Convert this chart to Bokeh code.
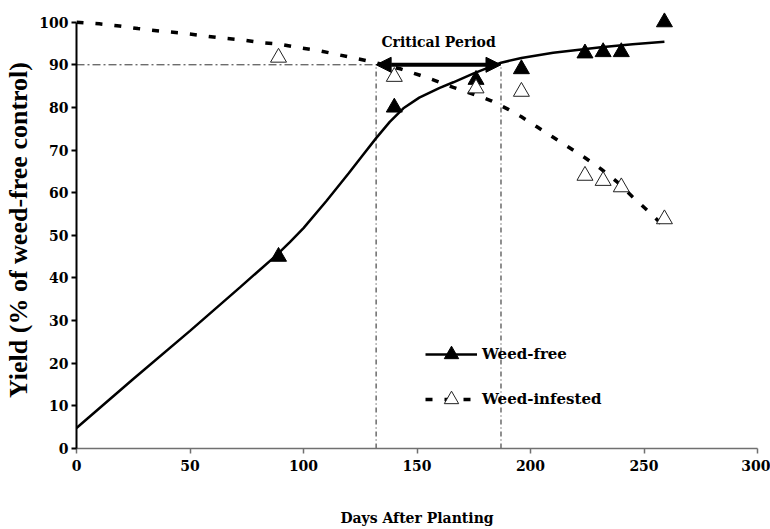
from bokeh.plotting import figure
from bokeh.models import Range1d, FixedTicker, Arrow, NormalHead, Label, Legend, LegendItem
from bokeh.embed import file_html
from bokeh.resources import INLINE

# ---- data ----
days = [89, 140, 176, 196, 224, 232, 240, 259]
weed_free = [45, 80, 86.5, 89, 92.7, 93, 93, 100]
weed_infested = [91.7, 87.2, 84.5, 83.7, 64, 62.8, 61.3, 53.8]

free_fit_days = [0, 25, 50, 72, 88, 94, 100, 110, 120, 126, 132, 138, 144, 151, 160, 166, 175, 187, 196, 210, 231, 245, 259]
free_fit_yield = [4.8, 16.3, 27.6, 37.8, 45.3, 48.4, 51.7, 58, 64.6, 68.7, 72.8, 76.6, 79.8, 82.3, 84.6, 85.9, 88, 90.5, 91.6, 92.8, 94.1, 94.8, 95.4]

inf_fit_days = [0, 10, 19, 27, 37, 47, 56, 64, 72, 81, 90, 98, 107, 115, 123, 131, 143, 151, 158, 166, 177,
                183, 190, 196, 203, 210, 217, 224, 231, 238, 245, 252, 259]
inf_fit_yield = [100, 99.6, 99.1, 98.5, 97.9, 97.4, 96.8, 96.3, 95.9, 95.2, 94.8, 94, 93.3, 92.4, 91.5, 90.6, 89,
                 87.6, 86.3, 84.7, 82.7, 81.5, 79.6, 77.8, 75.4, 73, 70.6, 68.2, 65.6, 62.6, 59, 55.6, 52]

cp_start, cp_end = 132, 187
threshold = 90

x_ticks = [0, 50, 100, 150, 200, 250, 300]
y_ticks = [0, 10, 20, 30, 40, 50, 60, 70, 80, 90, 100]

TICK_FONT = "DejaVu Serif"
TITLE_FONT = "Liberation Serif"

p = figure(width=770, height=529, output_backend="svg", toolbar_location=None,
           x_range=Range1d(0, 300), y_range=Range1d(0, 102.5),
           min_border_left=76, min_border_right=13, min_border_top=11, min_border_bottom=81)
p.outline_line_color = None
p.xgrid.visible = False
p.ygrid.visible = False
p.background_fill_color = "white"
p.border_fill_color = "white"

# axes
p.xaxis.ticker = FixedTicker(ticks=x_ticks)
p.yaxis.ticker = FixedTicker(ticks=y_ticks)
p.yaxis.bounds = (0, 100)
for ax in (p.xaxis, p.yaxis):
    ax.minor_tick_line_color = None
    ax.major_tick_out = 5
    ax.major_tick_in = 0
    ax.major_label_text_font = TICK_FONT
    ax.major_label_text_font_style = "bold"
    ax.major_label_text_font_size = "14px"
    ax.major_label_text_color = "black"
    ax.axis_label_text_color = "black"
    ax.axis_label_text_font_style = "bold"

p.yaxis.axis_line_color = "black"
p.yaxis.axis_line_width = 2
p.yaxis.major_tick_line_color = "black"
p.yaxis.major_tick_line_width = 2
p.yaxis.major_label_standoff = 3
p.yaxis.axis_label = "Yield (% of weed-free control)"
p.yaxis.axis_label_text_font = TITLE_FONT
p.yaxis.axis_label_text_font_size = "26px"
p.yaxis.axis_label_standoff = 3

p.xaxis.axis_line_color = "#707070"
p.xaxis.axis_line_width = 1.5
p.xaxis.major_tick_line_color = "#707070"
p.xaxis.major_tick_line_width = 1.5
p.xaxis.major_label_standoff = 6
p.xaxis.axis_label = "Days After Planting"
p.xaxis.axis_label_text_font = TICK_FONT
p.xaxis.axis_label_text_font_size = "14px"
p.xaxis.axis_label_standoff = 36

# critical period guide lines
p.segment(x0=[cp_start, cp_end], y0=[0, 0], x1=[cp_start, cp_end], y1=[threshold, threshold],
          line_color="#6a6a6a", line_width=1.5, line_dash="5 3 1 3")
p.segment(x0=[0], y0=[threshold], x1=[cp_start], y1=[threshold],
          line_color="#333333", line_width=1, line_dash="8 3 2 3")

# fitted curves
wf_line = p.line(free_fit_days, free_fit_yield, line_color="black", line_width=2.5)
wi_line = p.line(inf_fit_days, inf_fit_yield, line_color="black", line_width=3.5, line_dash="7 12")

# observations
wf_pts = p.scatter(days, weed_free, marker="triangle", size=16, fill_color="black", line_color="black")
wi_pts = p.scatter(days, weed_infested, marker="triangle", size=16, fill_color="white",
                   line_color="#222222", line_width=1)

# arrow for critical period
p.add_layout(Arrow(x_start=cp_start, y_start=threshold, x_end=cp_end, y_end=threshold,
                   line_width=4, line_color="black",
                   start=NormalHead(size=15, fill_color="black", line_color="black", line_width=1),
                   end=NormalHead(size=15, fill_color="black", line_color="black", line_width=1)))
p.add_layout(Label(x=(cp_start + cp_end) / 2, y=threshold, y_offset=23, text="Critical Period",
                   text_align="center", text_baseline="middle", text_font=TICK_FONT,
                   text_font_style="bold", text_font_size="14px", text_color="black"))

legend = Legend(items=[LegendItem(label="Weed-free", renderers=[wf_line, wf_pts]),
                       LegendItem(label="Weed-infested", renderers=[wi_line, wi_pts])],
                location=(349, 31), glyph_width=52, glyph_height=36, label_height=36,
                spacing=9, padding=5, margin=0, label_standoff=5,
                border_line_color=None, background_fill_alpha=0,
                label_text_font=TICK_FONT, label_text_font_style="bold",
                label_text_font_size="15px", label_text_color="black")
p.add_layout(legend)

open("out.html", "w").write(file_html(p, INLINE))
